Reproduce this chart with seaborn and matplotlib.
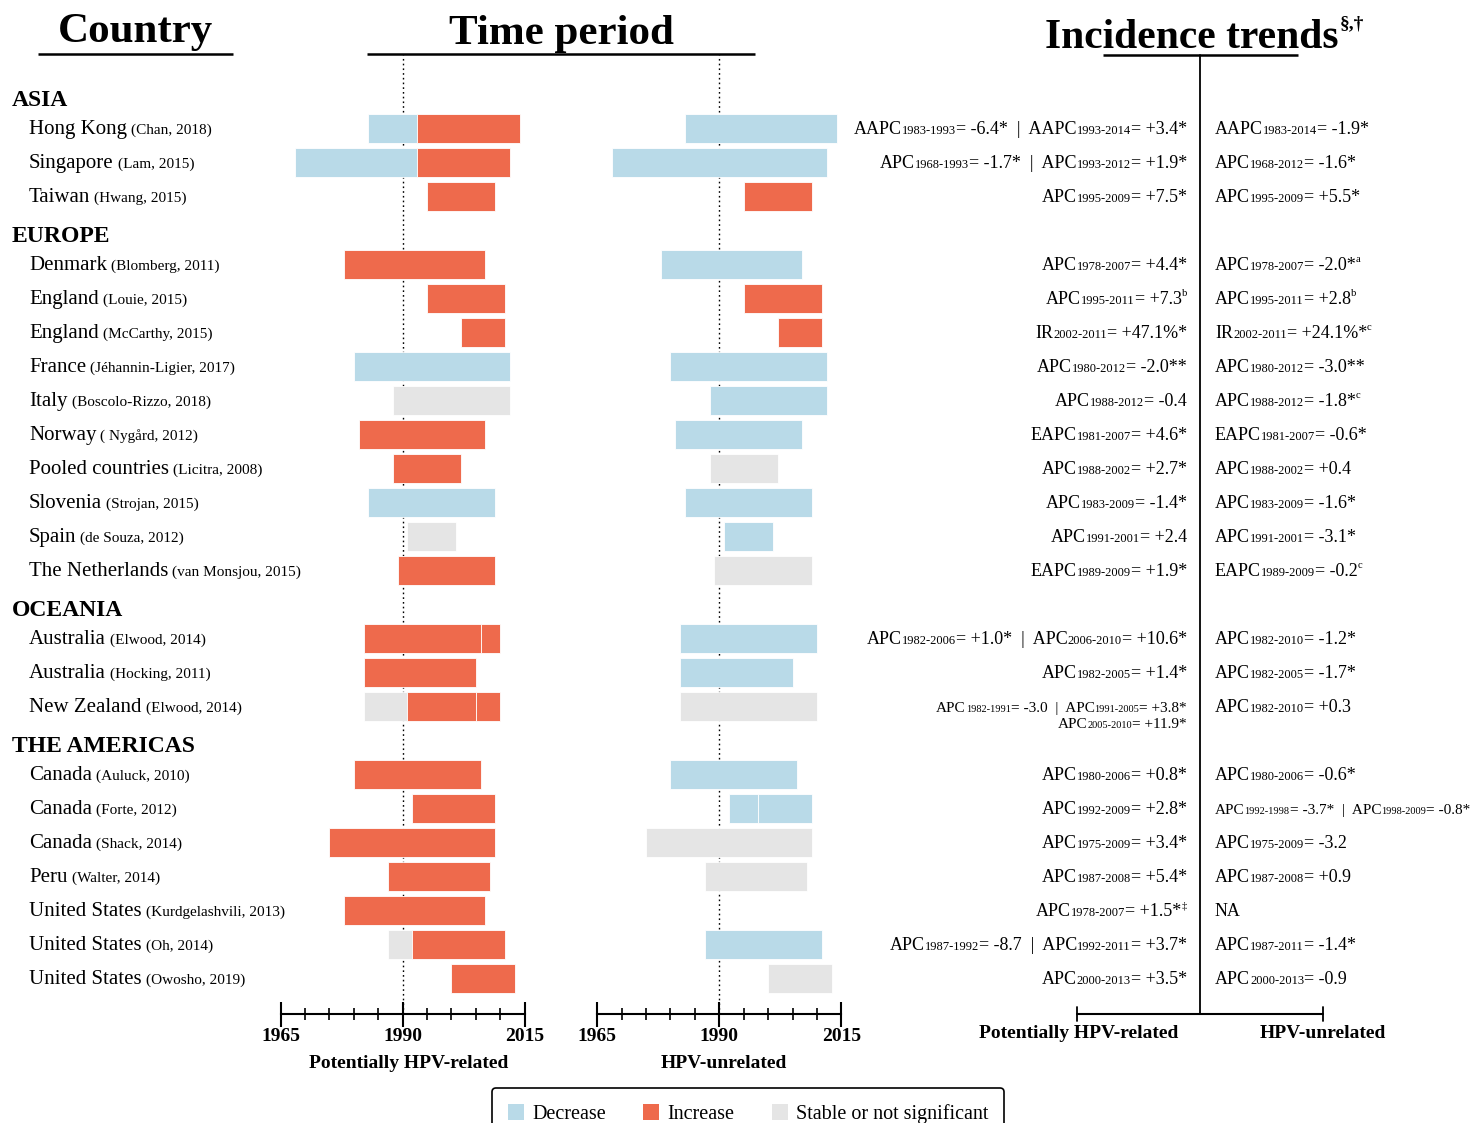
import re
import numpy as np
import pandas as pd
import matplotlib
matplotlib.use("Agg")
import matplotlib.pyplot as plt
import seaborn as sns
from matplotlib.patches import Patch
from matplotlib.ticker import MultipleLocator

sns.set_theme(style="white")
plt.rcParams["font.family"] = ["Liberation Serif", "DejaVu Serif"]
plt.rcParams["axes.unicode_minus"] = False
plt.rcParams.update({"text.color": "black", "axes.labelcolor": "black",
                     "xtick.color": "black", "ytick.color": "black"})

# ---------------- data ----------------
regions = ["ASIA", "EUROPE", "OCEANIA", "THE AMERICAS"]
region_sizes = [3, 10, 3, 7]

countries = ["Hong Kong", "Singapore", "Taiwan",
             "Denmark", "England", "England", "France", "Italy", "Norway",
             "Pooled countries", "Slovenia", "Spain", "The Netherlands",
             "Australia", "Australia", "New Zealand",
             "Canada", "Canada", "Canada", "Peru", "United States",
             "United States", "United States"]
authors = ["(Chan, 2018)", "(Lam, 2015)", "(Hwang, 2015)",
           "(Blomberg, 2011)", "(Louie, 2015)", "(McCarthy, 2015)",
           "(Jéhannin-Ligier, 2017)", "(Boscolo-Rizzo, 2018)", "( Nygård, 2012)",
           "(Licitra, 2008)", "(Strojan, 2015)", "(de Souza, 2012)",
           "(van Monsjou, 2015)",
           "(Elwood, 2014)", "(Hocking, 2011)", "(Elwood, 2014)",
           "(Auluck, 2010)", "(Forte, 2012)", "(Shack, 2014)", "(Walter, 2014)",
           "(Kurdgelashvili, 2013)", "(Oh, 2014)", "(Owosho, 2019)"]

# Potentially HPV-related periods (study index, start, end, trend)
rel_study = [0, 0, 1, 1, 2, 3, 4, 5, 6, 7, 8, 9, 10, 11, 12, 13, 13, 14,
             15, 15, 15, 16, 17, 18, 19, 20, 21, 21, 22]
rel_start = [1983, 1993, 1968, 1993, 1995, 1978, 1995, 2002, 1980, 1988, 1981,
             1988, 1983, 1991, 1989, 1982, 2006, 1982, 1982, 1991, 2005, 1980,
             1992, 1975, 1987, 1978, 1987, 1992, 2000]
rel_end = [1993, 2014, 1993, 2012, 2009, 2007, 2011, 2011, 2012, 2012, 2007,
           2002, 2009, 2001, 2009, 2006, 2010, 2005, 1991, 2005, 2010, 2006,
           2009, 2009, 2008, 2007, 1992, 2011, 2013]
rel_trend = ["Decrease", "Increase", "Decrease", "Increase", "Increase",
             "Increase", "Increase", "Increase", "Decrease", "Stable",
             "Increase", "Increase", "Decrease", "Stable", "Increase",
             "Increase", "Increase", "Increase", "Stable", "Increase",
             "Increase", "Increase", "Increase", "Increase", "Increase",
             "Increase", "Stable", "Increase", "Increase"]

# HPV-unrelated periods
unr_study = [0, 1, 2, 3, 4, 5, 6, 7, 8, 9, 10, 11, 12, 13, 14, 15, 16, 17, 17,
             18, 19, 21, 22]
unr_start = [1983, 1968, 1995, 1978, 1995, 2002, 1980, 1988, 1981, 1988, 1983,
             1991, 1989, 1982, 1982, 1982, 1980, 1992, 1998, 1975, 1987, 1987,
             2000]
unr_end = [2014, 2012, 2009, 2007, 2011, 2011, 2012, 2012, 2007, 2002, 2009,
           2001, 2009, 2010, 2005, 2010, 2006, 1998, 2009, 2009, 2008, 2011,
           2013]
unr_trend = ["Decrease", "Decrease", "Increase", "Decrease", "Increase",
             "Increase", "Decrease", "Decrease", "Decrease", "Stable",
             "Decrease", "Decrease", "Stable", "Decrease", "Decrease",
             "Stable", "Decrease", "Decrease", "Decrease", "Stable", "Stable",
             "Decrease", "Stable"]

rel_text = ["AAPC_{1983-1993}= -6.4*  |  AAPC_{1993-2014}= +3.4*",
            "APC_{1968-1993}= -1.7*  |  APC_{1993-2012}= +1.9*",
            "APC_{1995-2009}= +7.5*",
            "APC_{1978-2007}= +4.4*",
            "APC_{1995-2011}= +7.3^{b}",
            "IR_{2002-2011}= +47.1%*",
            "APC_{1980-2012}= -2.0**",
            "APC_{1988-2012}= -0.4",
            "EAPC_{1981-2007}= +4.6*",
            "APC_{1988-2002}= +2.7*",
            "APC_{1983-2009}= -1.4*",
            "APC_{1991-2001}= +2.4",
            "EAPC_{1989-2009}= +1.9*",
            "APC_{1982-2006}= +1.0*  |  APC_{2006-2010}= +10.6*",
            "APC_{1982-2005}= +1.4*",
            "APC_{1982-1991}= -3.0  |  APC_{1991-2005}= +3.8*\nAPC_{2005-2010}= +11.9*",
            "APC_{1980-2006}= +0.8*",
            "APC_{1992-2009}= +2.8*",
            "APC_{1975-2009}= +3.4*",
            "APC_{1987-2008}= +5.4*",
            "APC_{1978-2007}= +1.5*^{\u2021}",
            "APC_{1987-1992}= -8.7  |  APC_{1992-2011}= +3.7*",
            "APC_{2000-2013}= +3.5*"]
unr_text = ["AAPC_{1983-2014}= -1.9*",
            "APC_{1968-2012}= -1.6*",
            "APC_{1995-2009}= +5.5*",
            "APC_{1978-2007}= -2.0*^{a}",
            "APC_{1995-2011}= +2.8^{b}",
            "IR_{2002-2011}= +24.1%*^{c}",
            "APC_{1980-2012}= -3.0**",
            "APC_{1988-2012}= -1.8*^{c}",
            "EAPC_{1981-2007}= -0.6*",
            "APC_{1988-2002}= +0.4",
            "APC_{1983-2009}= -1.6*",
            "APC_{1991-2001}= -3.1*",
            "EAPC_{1989-2009}= -0.2^{c}",
            "APC_{1982-2010}= -1.2*",
            "APC_{1982-2005}= -1.7*",
            "APC_{1982-2010}= +0.3",
            "APC_{1980-2006}= -0.6*",
            "APC_{1992-1998}= -3.7*  |  APC_{1998-2009}= -0.8*",
            "APC_{1975-2009}= -3.2",
            "APC_{1987-2008}= +0.9",
            "NA",
            "APC_{1987-2011}= -1.4*",
            "APC_{2000-2013}= -0.9"]
small_rel = [15]
small_unr = [17]

trend_labels = ["Decrease", "Increase", "Stable or not significant"]
palette = {"Decrease": "#B9DAE8", "Increase": "#EE6A4C", "Stable": "#E5E5E5"}

# ---------------- layout helpers ----------------
W, H = 1482, 1123
ROW0, ROWH = 94.5, 34.0      # pixel centre of slot 0 and slot pitch
AX_TOP, AX_BOT = 55, 1014

slots, header_slots = [], []
k = 0
for n in region_sizes:
    header_slots.append(k)
    k += 1
    for _ in range(n):
        slots.append(k)
        k += 1
slots = np.array(slots)


def row_px(s):
    return ROW0 + ROWH * s


fig = plt.figure(figsize=(W / 100, H / 100), dpi=100)
fig.patch.set_facecolor("white")


def bar_axes(x0, x1):
    ax = fig.add_axes([x0 / W, 1 - AX_BOT / H, (x1 - x0) / W, (AX_BOT - AX_TOP) / H])
    ax.set_facecolor("none")
    ax.set_xlim(1965, 2015)
    ax.set_ylim((AX_BOT - ROW0) / ROWH, (AX_TOP - ROW0) / ROWH)
    for sp in ["left", "right", "top"]:
        ax.spines[sp].set_visible(False)
    ax.spines["bottom"].set_color("black")
    ax.spines["bottom"].set_linewidth(1.5)
    ax.set_yticks([])
    ax.set_xticks([1965, 1990, 2015])
    ax.xaxis.set_minor_locator(MultipleLocator(5))
    ax.tick_params(axis="x", which="major", direction="inout", length=18,
                   width=1.5, color="black", labelsize=14, pad=1, bottom=True,
                   labelcolor="black")
    ax.tick_params(axis="x", which="minor", direction="inout", length=8,
                   width=1.2, color="black", bottom=True)
    for lbl in ax.get_xticklabels():
        lbl.set_fontweight("bold")
    ax.axvline(1990, color="black", ls=(0, (1.2, 2.2)), lw=1.0, zorder=1)
    ax.grid(False)
    return ax


def draw_bars(ax, study, start, end, trend):
    df = pd.DataFrame({"study": study, "start": start, "end": end, "trend": trend})
    df["y"] = slots[df["study"].to_numpy()]
    ax.barh(df["y"], df["end"] - df["start"], left=df["start"], height=0.85,
            color=df["trend"].map(palette), edgecolor="white", linewidth=0.6,
            zorder=3)


ax_rel = bar_axes(280.7, 524.5)
ax_unr = bar_axes(597.2, 841.4)
draw_bars(ax_rel, rel_study, rel_start, rel_end, rel_trend)
draw_bars(ax_unr, unr_study, unr_start, unr_end, unr_trend)

# overlay axes in pixel coordinates for text/decorations
ov = fig.add_axes([0, 0, 1, 1])
ov.set_xlim(0, W)
ov.set_ylim(H, 0)
ov.axis("off")
renderer = fig.canvas.get_renderer()


def rich(x, y, s, ha="left", size=13, sub=9):
    parts = re.split(r"(_\{[^}]*\}|\^\{[^}]*\})", s)
    arts, cur = [], x
    for p in parts:
        if not p:
            continue
        if p.startswith("_{"):
            txt, fs, dy = p[2:-1], sub, 0
        elif p.startswith("^{"):
            txt, fs, dy = p[2:-1], sub * 0.85, -size * 1.389 * 0.42
        else:
            txt, fs, dy = p, size, 0
        t = ov.text(cur, y + dy, txt, fontsize=fs, ha="left", va="baseline",
                    color="black")
        cur += t.get_window_extent(renderer).width
        arts.append(t)
    if ha == "right":
        shift = x - cur
        for t in arts:
            px, py = t.get_position()
            t.set_position((px + shift, py))


# titles
ov.text(135, 42, "Country", fontsize=31, fontweight="bold", ha="center", va="baseline")
ov.text(561, 44, "Time period", fontsize=31, fontweight="bold", ha="center", va="baseline")
tt = ov.text(1045, 48, "Incidence trends", fontsize=30, fontweight="bold", ha="left", va="baseline")
ov.text(1045 + tt.get_window_extent(renderer).width + 1, 28, "§,†", fontsize=14,
        fontweight="bold", ha="left", va="baseline")
for x0, x1, yy in [(38, 233, 54), (367, 755, 54), (1103, 1298, 55)]:
    ov.plot([x0, x1], [yy, yy], color="black", lw=1.8, solid_capstyle="butt")

# separator and bottom axis of trends panel
ov.plot([1200, 1200], [55, 1014], color="black", lw=1.3)
ov.plot([1077, 1323], [1014, 1014], color="black", lw=1.5)
for xx in [1077, 1323]:
    ov.plot([xx, xx], [1007, 1021], color="black", lw=1.3)
ov.text(1079, 1034, "Potentially HPV-related", fontsize=14, fontweight="bold",
        ha="center", va="center")
ov.text(1323, 1034, "HPV-unrelated", fontsize=14, fontweight="bold",
        ha="center", va="center")
ov.text(409, 1064, "Potentially HPV-related", fontsize=14, fontweight="bold",
        ha="center", va="center")
ov.text(724, 1064, "HPV-unrelated", fontsize=14, fontweight="bold",
        ha="center", va="center")

# region headers
for name, s in zip(regions, header_slots):
    ov.text(12, row_px(s) + 11, name, fontsize=17, fontweight="bold",
            ha="left", va="baseline")

# study labels
for i, (c, a) in enumerate(zip(countries, authors)):
    yb = row_px(slots[i]) + 5.5
    t = ov.text(29, yb, c, fontsize=15, ha="left", va="baseline")
    x1 = 29 + t.get_window_extent(renderer).width
    ov.text(x1 + 4, yb, a, fontsize=11, ha="left", va="baseline")

# incidence texts
for i, s in enumerate(rel_text):
    yb = row_px(slots[i]) + 5.5
    if i in small_rel:
        lines = s.split("\n")
        rich(1187, yb, lines[0], ha="right", size=11, sub=7.5)
        rich(1187, yb + 16, lines[1], ha="right", size=11, sub=7.5)
    else:
        rich(1187, yb, s, ha="right", size=13, sub=9)
for i, s in enumerate(unr_text):
    yb = row_px(slots[i]) + 5.5
    if i in small_unr:
        rich(1215, yb, s, ha="left", size=11, sub=7.5)
    else:
        rich(1215, yb, s, ha="left", size=13, sub=9)

# legend
handles = [Patch(facecolor=palette[k_], edgecolor="none")
           for k_ in ["Decrease", "Increase", "Stable"]]
leg = fig.legend(handles, trend_labels, loc="upper left",
                 bbox_to_anchor=(492 / W, 1 - 1088 / H), ncol=3, frameon=True,
                 fancybox=True, edgecolor="black", framealpha=1, fontsize=14.5,
                 handlelength=0.8, handleheight=0.8, handletextpad=0.4,
                 columnspacing=1.85, borderpad=0.8, borderaxespad=0)
leg.get_frame().set_linewidth(1.2)

fig.savefig("out.png", dpi=100, facecolor="white")
